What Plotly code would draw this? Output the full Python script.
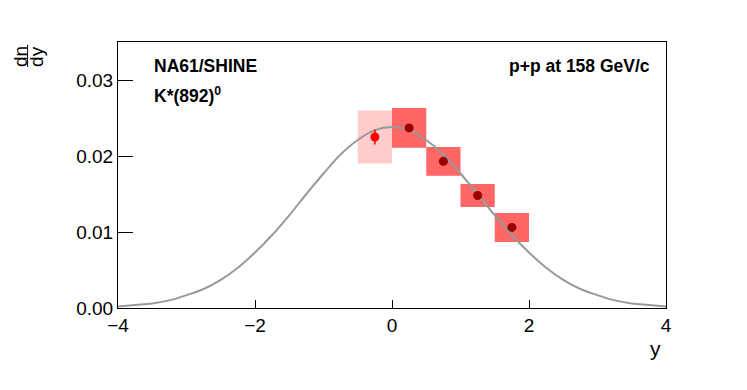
import plotly.graph_objects as go

# K*(892)0 rapidity spectrum, p+p at 158 GeV/c
# measured point (left, open syst box) and reflected points (right)
y_meas = [-0.25]
dndy_meas = [0.0225]
stat_meas = [0.0010]
syst_meas = [0.0035]

y_refl = [0.25, 0.75, 1.25, 1.75]
dndy_refl = [0.0237, 0.0193, 0.0148, 0.0106]
syst_refl = [0.0026, 0.0019, 0.0015, 0.0019]

box_width = 0.5

# gaussian curve
curve_y = [-4.0, -3.75, -3.5, -3.25, -3.0, -2.75, -2.5, -2.25, -2.0, -1.75, -1.5,
           -1.25, -1.0, -0.75, -0.5, -0.25, 0.0, 0.25, 0.5, 0.75, 1.0, 1.25,
           1.5, 1.75, 2.0, 2.25, 2.5, 2.75, 3.0, 3.25, 3.5, 3.75, 4.0]
curve_dndy = [0.0002, 0.0004, 0.0006, 0.0010, 0.0017, 0.0025, 0.0037, 0.0053,
              0.0073, 0.0096, 0.0122, 0.0150, 0.0177, 0.0202, 0.0221, 0.0234,
              0.0238, 0.0234, 0.0221, 0.0202, 0.0177, 0.0150, 0.0122, 0.0096,
              0.0073, 0.0053, 0.0037, 0.0025, 0.0017, 0.0010, 0.0006, 0.0004,
              0.0002]

x_ticks = [-4, -2, 0, 2, 4]
y_ticks = [0.0, 0.01, 0.02, 0.03]

FONT = "Liberation Sans, Arial, Helvetica, sans-serif"

fig = go.Figure()

fig.add_trace(go.Scatter(
    x=curve_y, y=curve_dndy, mode="lines",
    line=dict(color="#999999", width=2, shape="spline"),
    hoverinfo="skip",
))

# systematic boxes
fig.add_trace(go.Bar(
    x=y_meas, y=[2 * s for s in syst_meas],
    base=[v - s for v, s in zip(dndy_meas, syst_meas)],
    width=box_width, marker=dict(color="#ffcccc", line=dict(width=0)),
))
fig.add_trace(go.Bar(
    x=y_refl, y=[2 * s for s in syst_refl],
    base=[v - s for v, s in zip(dndy_refl, syst_refl)],
    width=box_width, marker=dict(color="#ff6666", line=dict(width=0)),
))

fig.add_trace(go.Scatter(
    x=y_meas, y=dndy_meas, mode="markers",
    marker=dict(color="#ff0000", size=9),
    error_y=dict(type="data", array=stat_meas, color="#ff0000", thickness=1.5, width=0),
))
fig.add_trace(go.Scatter(
    x=y_refl, y=dndy_refl, mode="markers",
    marker=dict(color="#990000", size=9),
))

# page body has an 8px margin, so shift the plot area back by that
fig.update_layout(
    width=747, height=390,
    margin=dict(l=110, r=89, t=34, b=90),
    paper_bgcolor="white", plot_bgcolor="white",
    showlegend=False, barmode="overlay",
    font=dict(family=FONT, size=19, color="black"),
    xaxis=dict(
        range=[-4, 4], tickvals=x_ticks, ticks="inside", ticklen=8,
        tickcolor="black", showgrid=False, zeroline=False,
        showline=True, linecolor="black", linewidth=1, mirror=True,
    ),
    yaxis=dict(
        range=[0, 0.035], tickvals=y_ticks, tickformat=".2f", ticks="inside",
        ticklen=15, tickcolor="black", showgrid=False, zeroline=False,
        showline=True, linecolor="black", linewidth=1, mirror=True,
    ),
)

bold = dict(family=FONT, size=17.5, color="black")
fig.add_annotation(xref="paper", yref="paper", x=0.062, y=0.91, xanchor="left",
                   yanchor="middle", text="<b>NA61/SHINE</b>", showarrow=False, font=bold)
fig.add_annotation(xref="paper", yref="paper", x=0.062, y=0.80, xanchor="left",
                   yanchor="middle", text="<b>K*(892)<sup>0</sup></b>", showarrow=False, font=bold)
fig.add_annotation(xref="paper", yref="paper", x=0.975, y=0.91, xanchor="right",
                   yanchor="middle", text="<b>p+p at 158 GeV/c</b>", showarrow=False, font=bold)

# axis titles, ROOT style
fig.add_annotation(xref="paper", yref="paper", x=0.9945, y=-0.154, xanchor="right",
                   yanchor="middle", text="y", showarrow=False, font=dict(family=FONT, size=21))
fig.add_annotation(xref="paper", yref="paper", x=-0.179, y=0.947, xanchor="center",
                   yanchor="middle", text="dn", textangle=-90, showarrow=False,
                   font=dict(family=FONT, size=19))
fig.add_annotation(xref="paper", yref="paper", x=-0.150, y=0.947, xanchor="center",
                   yanchor="middle", text="dy", textangle=-90, showarrow=False,
                   font=dict(family=FONT, size=19))
fig.add_shape(type="line", xref="paper", yref="paper", x0=-0.165, x1=-0.165,
              y0=0.906, y1=0.989, line=dict(color="black", width=1))

fig.write_html("out.html")
